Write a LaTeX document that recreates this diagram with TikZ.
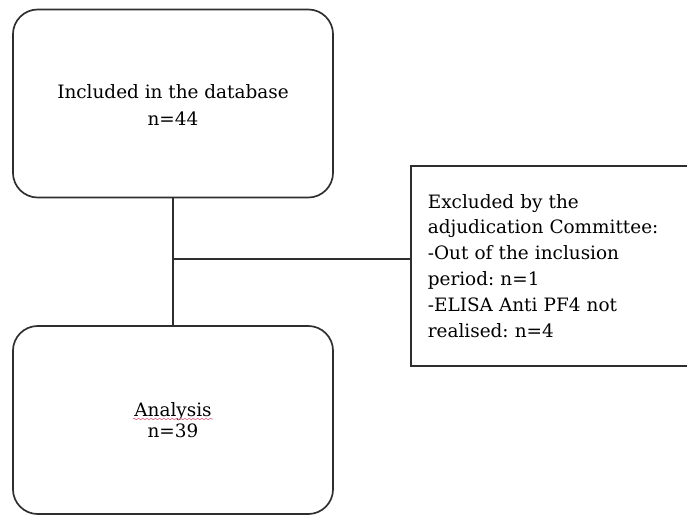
\documentclass[tikz,border=0pt]{standalone}
\usepackage{fontspec}
\setmainfont{DejaVu Serif}
\usetikzlibrary{positioning, calc, decorations.pathmorphing}
\definecolor{boxline}{HTML}{2E2E2E}
\definecolor{spellred}{HTML}{D9708A}

\tikzset{
  flowbox/.style={draw=boxline, line width=1.2pt, rounded corners=0.62cm, minimum width=8cm, minimum height=4.7cm, align=center, text=black, font=\fontsize{13.1}{15.3}\selectfont},
  notebox/.style={draw=boxline, line width=1.2pt, anchor=north west, align=left, text width=6.4cm, inner xsep=0.425cm, minimum height=5cm, text=black, font=\fontsize{13.1}{18.4}\selectfont},
  link/.style={draw=boxline, line width=1.2pt}
}

\begin{document}
\frenchspacing
\begin{tikzpicture}[x=0.025cm, y=-0.025cm]
  \useasboundingbox (0,0) rectangle (687,515);
  \clip (0,0) rectangle (687,515);

  % Main flow
  \node[flowbox] (included) at (173,103.5) {\rule{0pt}{12pt}Included in the database\\[3.6pt]n=44};
  \node[flowbox] (analysis) at (173,420) {Analysis\\n=39};

  % Exclusions (box runs off the right edge)
  \node[notebox] (excluded) at (410,165) {Excluded by the\\adjudication Committee:\\-Out of the inclusion\\period: n=1\\-ELISA Anti PF4 not\\realised: n=4};

  % Connectors
  \coordinate (branch) at (included.south |- 0,259);
  \draw[link] (included.south) -- (analysis.north);
  \draw[link] (branch) -- (branch -| excluded.west);

  % spell-check underline
  \draw[spellred, line width=0.5pt, decorate, decoration={snake, amplitude=0.5pt, segment length=3pt}] (133,419) -- (213,419);
\end{tikzpicture}
\end{document}
